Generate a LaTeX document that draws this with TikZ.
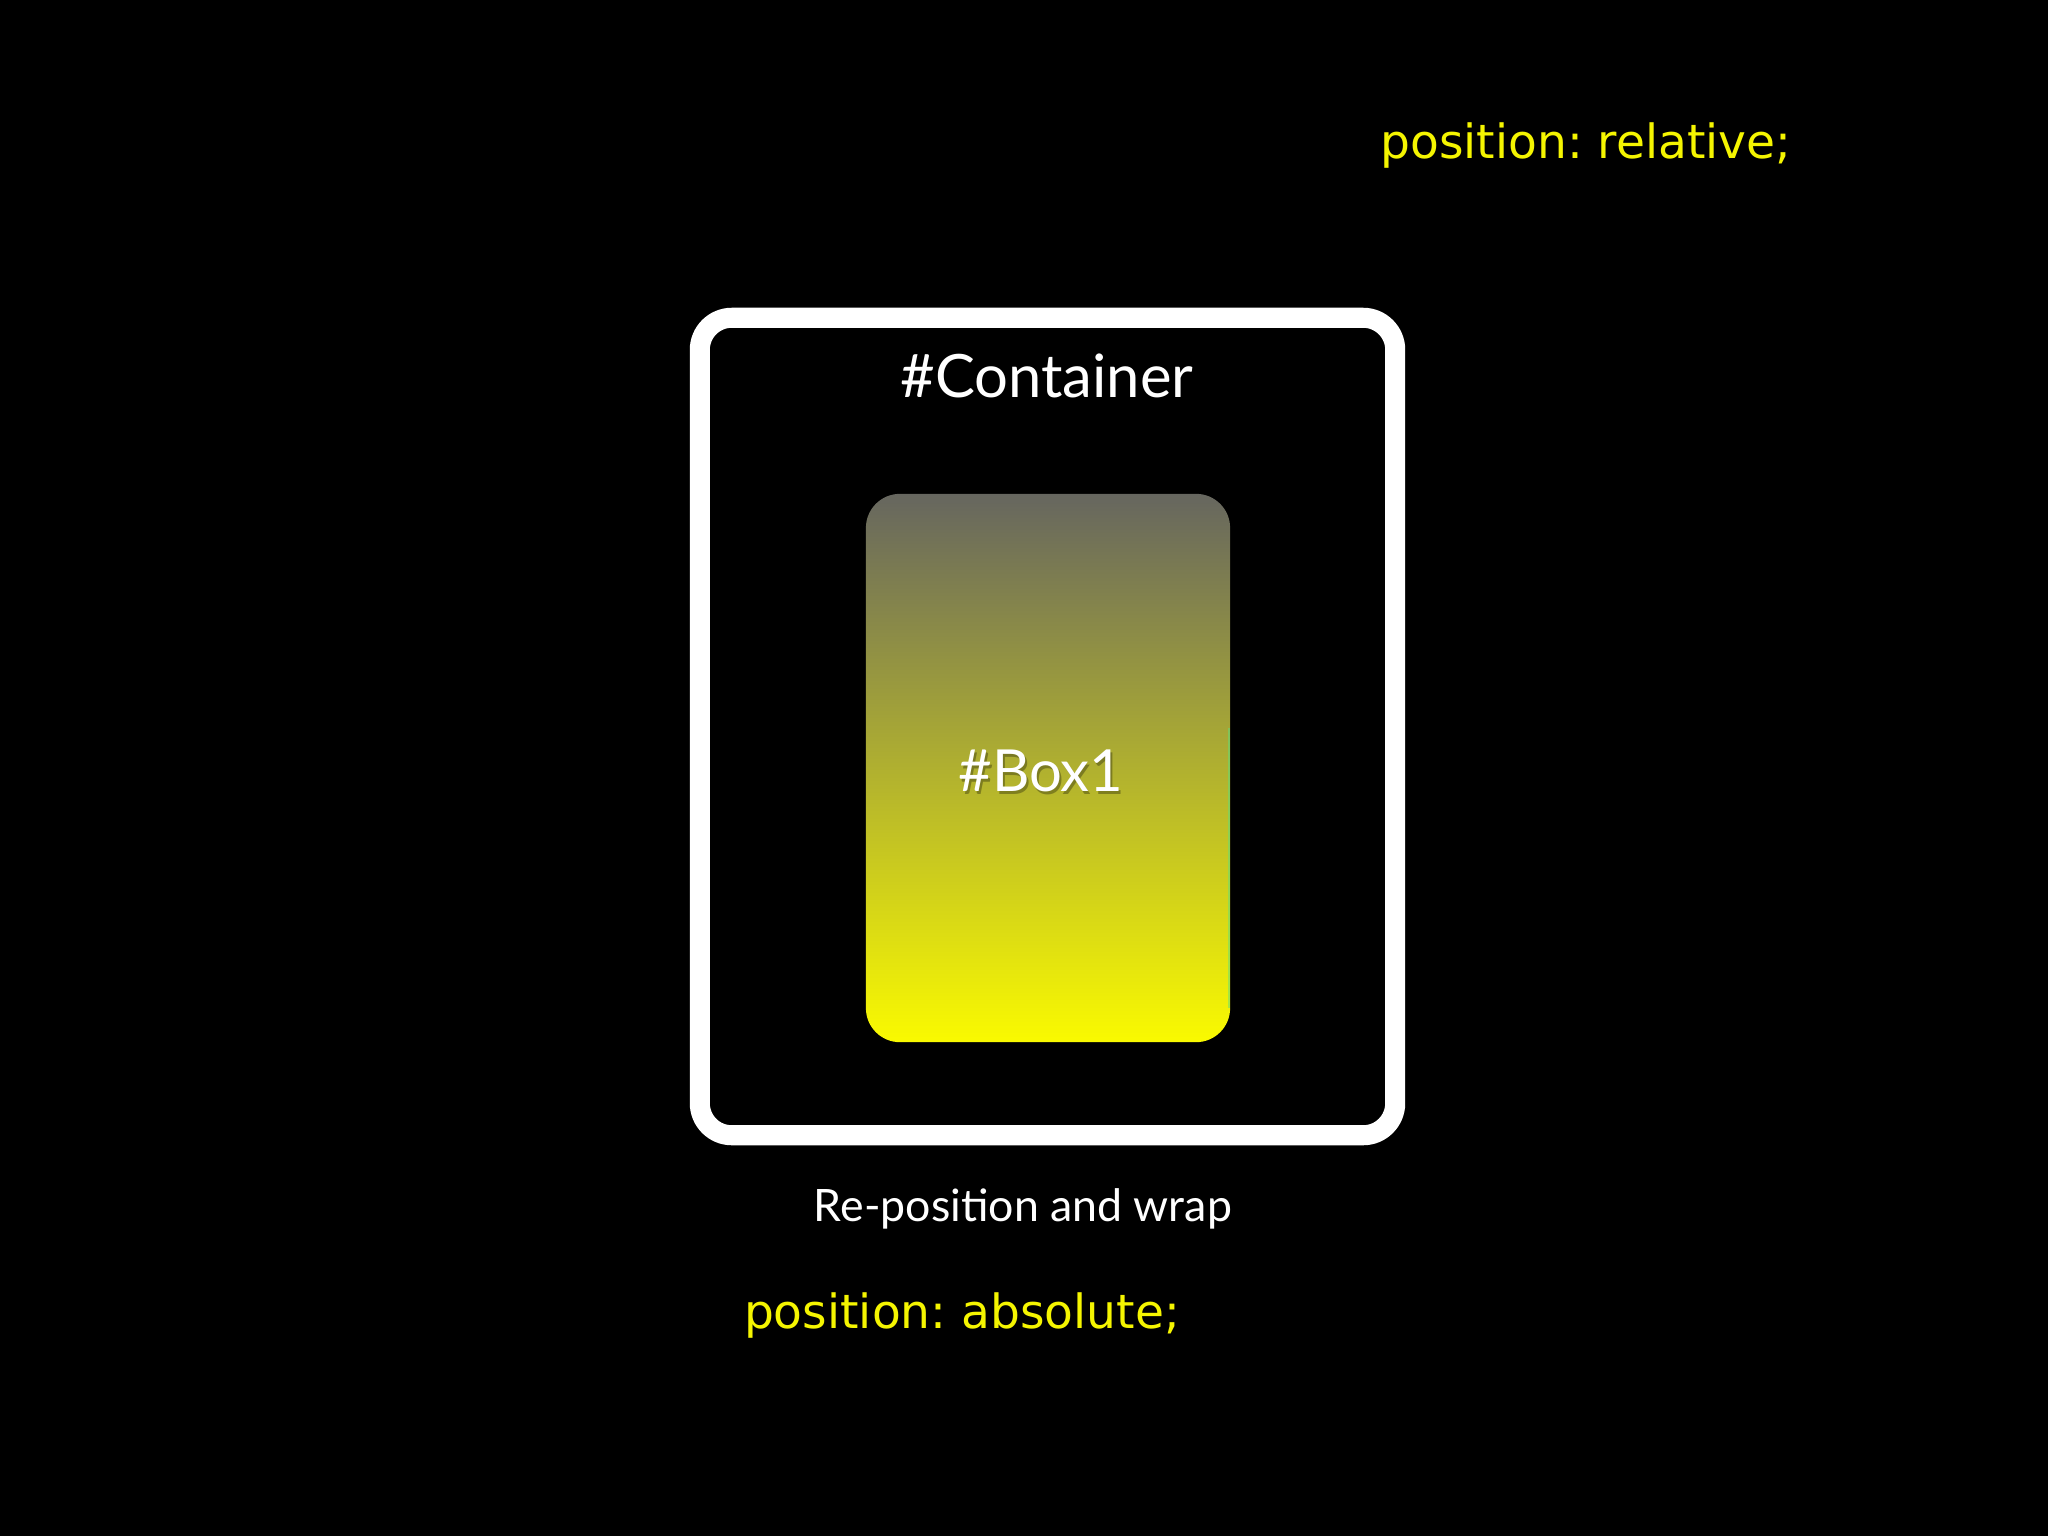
\documentclass[tikz,border=0pt]{standalone}
\usepackage{fontspec}
\setmainfont{Lato}
\newfontfamily\codefont{DejaVu Sans}
\usetikzlibrary{positioning}
\definecolor{amarillo}{HTML}{F5F500}
\definecolor{grisarriba}{HTML}{66665F}
\definecolor{amarilloabajo}{HTML}{FAFA00}
\definecolor{borde}{HTML}{5CE080}

\begin{document}
\begin{tikzpicture}[x=0.01cm, y=-0.01cm, inner sep=0pt,
  marco/.style={draw=white, line width=5.7pt, rounded corners=0.32cm, minimum width=6.95cm, minimum height=8.17cm},
  caja/.style={top color=grisarriba, bottom color=amarilloabajo, rounded corners=0.34cm, minimum width=3.64cm, minimum height=5.48cm},
  etiqueta/.style={text=white, font=\fontsize{17}{20}\selectfont},
  codigo/.style={text=amarillo, font=\codefont\fontsize{13.4}{16}\selectfont\frenchspacing}]
  \fill[black] (0,0) rectangle (2048,1536);
  \useasboundingbox (0,0) rectangle (2048,1536);
  \node[marco] (container) at (1047.5,726.5) {};
  \node[caja] (box) at (1048,768) {};
  \draw[borde, line width=0.8pt, opacity=0.5] ([xshift=-0.5pt]box.east) ++(0,-40) -- ([xshift=-0.5pt, yshift=10pt]box.south east);
  \node[etiqueta] (containerlbl) at (1047,376) {\#Container};
  \node[etiqueta, text=black, opacity=0.3, font=\fontsize{16.5}{20}\selectfont] at (1043,774) {\#Box1};
  \node[etiqueta, font=\fontsize{16.5}{20}\selectfont] (boxlbl) at (1041,771) {\#Box1};
  \node[etiqueta, font=\fontsize{12.7}{16}\selectfont] (wrap) at (1023,1209) {Re-position and wrap};
  \node[codigo] (absolute) at (962,1315) {position: absolute;};
  \node[codigo] (relative) at (1586,145) {position: relative;};
\end{tikzpicture}
\end{document}
